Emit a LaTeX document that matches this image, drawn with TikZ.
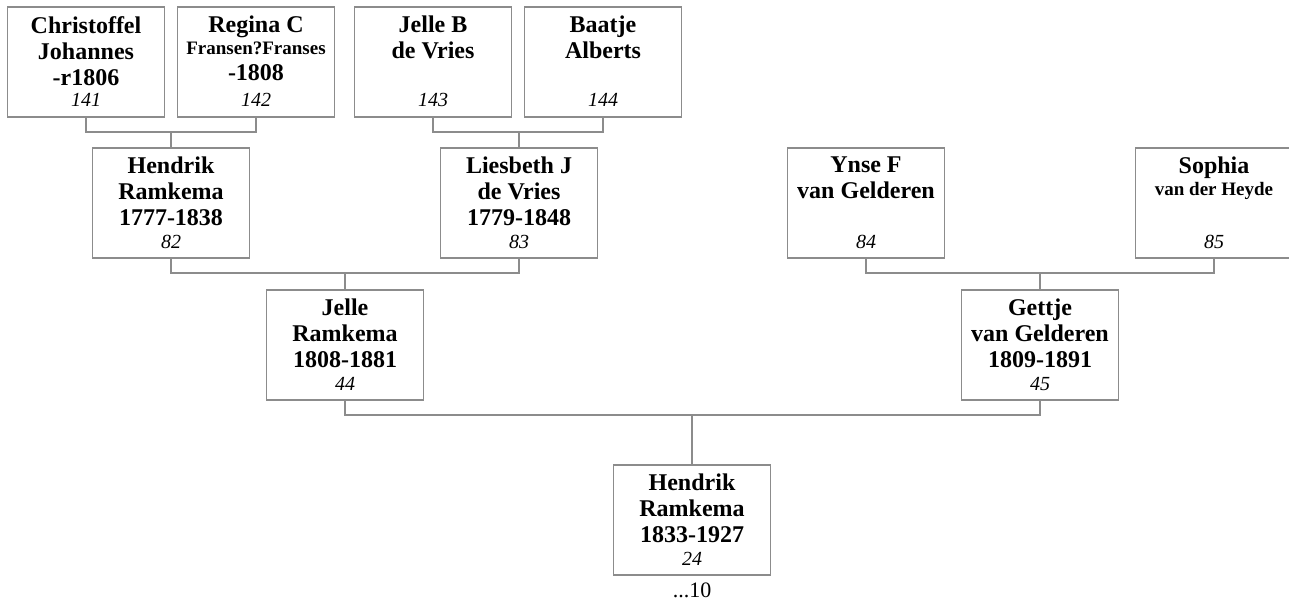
\documentclass[tikz,border=0pt]{standalone}
\usepackage{fontspec}
\setmainfont{Liberation Serif}
\definecolor{boxgray}{HTML}{8C8C8C}
\definecolor{linegray}{HTML}{8C8C8C}
\begin{document}
\begin{tikzpicture}[x=1pt,y=-1pt,
  pbox/.style={draw=boxgray, line width=1.4pt, minimum width=157pt, minimum height=110pt, inner sep=0pt, fill=white},
  pname/.style={font=\fontsize{24}{26}\selectfont\bfseries, align=center, anchor=north, inner sep=0pt,
    execute at begin node={\rule{0pt}{16pt}}},
  pnum/.style={font=\fontsize{20}{21}\selectfont\itshape, anchor=base, inner sep=0pt},
  conn/.style={draw=linegray, line width=1.4pt}]
\useasboundingbox (0,0) rectangle (1289,604);
\newcommand{\smallname}[1]{{\fontsize{19}{20}\selectfont #1}}
% boxes
\node[pbox] (p141) at (86,62) {};
\node[pbox] (p142) at (256,62) {};
\node[pbox] (p143) at (433,62) {};
\node[pbox] (p144) at (603,62) {};
\node[pbox] (p82) at (171,203) {};
\node[pbox] (p83) at (519,203) {};
\node[pbox] (p84) at (866,203) {};
\node[pbox] (p85) at (1214,203) {};
\node[pbox] (p44) at (345,345) {};
\node[pbox] (p45) at (1040,345) {};
\node[pbox] (p24) at (692,520) {};
% names
\node[pname] (n141) at (86,16) {Christoffel\\Johannes\\-r1806};
\node[pname] (n142) at (256,16) {Regina C\\[-4pt]\smallname{Fransen?Franses}\\-1808};
\node[pname] (n143) at (433,16) {Jelle B\\de Vries};
\node[pname] (n144) at (603,16) {Baatje\\Alberts};
\node[pname] (n82) at (171,157) {Hendrik\\Ramkema\\1777-1838};
\node[pname] (n83) at (519,157) {Liesbeth J\\de Vries\\1779-1848};
\node[pname] (n84) at (866,157) {Ynse F\\van Gelderen};
\node[pname] (n85) at (1214,157) {Sophia\\[-4pt]\smallname{van der Heyde}};
\node[pname] (n44) at (345,299) {Jelle\\Ramkema\\1808-1881};
\node[pname] (n45) at (1040,299) {Gettje\\van Gelderen\\1809-1891};
\node[pname] (n24) at (692,474) {Hendrik\\Ramkema\\1833-1927};
% numbers
\node[pnum] (m141) at (86,107) {141};
\node[pnum] (m142) at (256,107) {142};
\node[pnum] (m143) at (433,107) {143};
\node[pnum] (m144) at (603,107) {144};
\node[pnum] (m82) at (171,248) {82};
\node[pnum] (m83) at (519,248) {83};
\node[pnum] (m84) at (866,248) {84};
\node[pnum] (m85) at (1214,248) {85};
\node[pnum] (m44) at (345,390) {44};
\node[pnum] (m45) at (1040,390) {45};
\node[pnum] (m24) at (692,565) {24};
\node[font=\fontsize{22}{24}\selectfont, anchor=base, inner sep=0pt] (more) at (692,597) {...10};
% junctions
\coordinate (j1) at (171,132);
\coordinate (j2) at (519,132);
\coordinate (j3) at (345,273);
\coordinate (j4) at (1040,273);
\coordinate (j5) at (692,415);
% connectors
\draw[conn] (p141.south) |- (j1) -| (p142.south);
\draw[conn] (j1) -- (p82.north);
\draw[conn] (p143.south) |- (j2) -| (p144.south);
\draw[conn] (j2) -- (p83.north);
\draw[conn] (p82.south) |- (j3) -| (p83.south);
\draw[conn] (j3) -- (p44.north);
\draw[conn] (p84.south) |- (j4) -| (p85.south);
\draw[conn] (j4) -- (p45.north);
\draw[conn] (p44.south) |- (j5) -| (p45.south);
\draw[conn] (j5) -- (p24.north);
\end{tikzpicture}
\end{document}
